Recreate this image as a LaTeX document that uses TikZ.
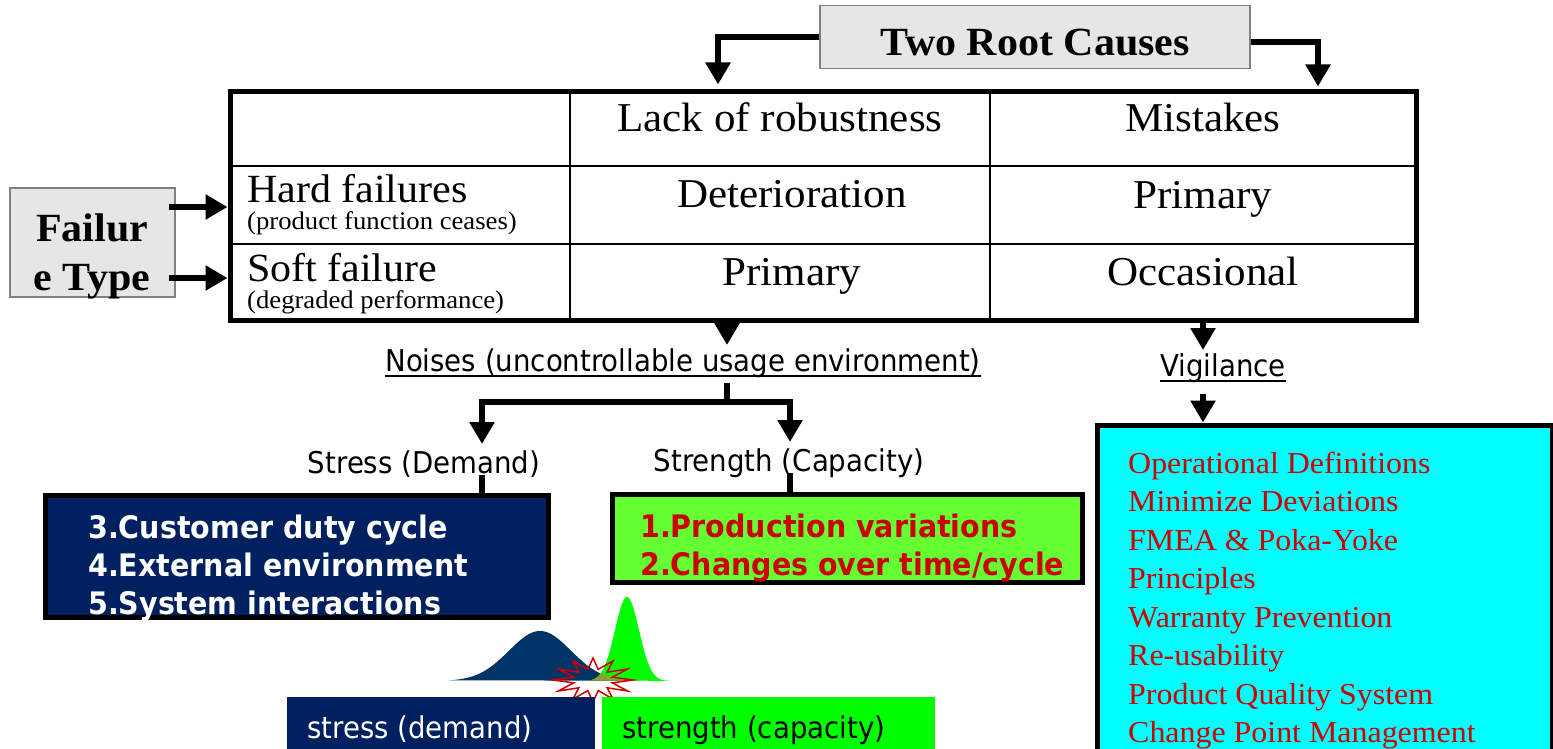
\documentclass[tikz,border=0pt]{standalone}
\usepackage{fontspec}
\setmainfont{Liberation Serif}[FakeStretch=1.05]
\newfontfamily\tah{DejaVu Sans}[FakeStretch=0.92]
\usetikzlibrary{arrows.meta,calc}
\definecolor{navy}{RGB}{0,32,96}
\definecolor{bellnavy}{RGB}{0,51,102}
\definecolor{lgreen}{RGB}{102,255,51}
\definecolor{pgreen}{RGB}{0,255,0}
\definecolor{dred}{RGB}{204,0,0}
\definecolor{lgray}{RGB}{230,230,230}
\definecolor{olivec}{RGB}{153,153,51}
\definecolor{aqua}{RGB}{0,255,255}
\newcommand\setfs[1]{\fontsize{#1}{#1}\selectfont}
\tikzset{
  arr/.style={line width=6pt,-{Triangle[width=24pt,length=22pt]}},
  stem/.style={line width=5.5pt},
  cell/.style={anchor=base,inner sep=0pt,font=\setfs{41}},
  rowhead/.style={anchor=base west,inner sep=0pt,font=\setfs{40}},
  subcell/.style={anchor=base west,inner sep=0pt,font=\setfs{25.4}},
  grayfill/.style={draw=gray,line width=1.5pt,fill=lgray,inner sep=0pt},
  boxframe/.style={draw=black,line width=5pt,inner sep=0pt},
  boldser/.style={anchor=base,inner sep=0pt,font=\bfseries\setfs{40}},
  sanslab/.style={anchor=base,inner sep=0pt,font=\tah\setfs{30}},
  boldsans/.style={anchor=base west,inner sep=0pt,font=\tah\bfseries\setfs{31}},
  redser/.style={anchor=base west,inner sep=0pt,text=dred,font=\setfs{30.4}},
}
\begin{document}
\begin{tikzpicture}[x=1pt,y=-1pt]
\clip (0,0) rectangle (1553,749);
\fill[white] (0,0) rectangle (1553,749);

% Two Root Causes
\node[grayfill,minimum width=430pt,minimum height=63pt] (root) at (1035,37) {};
\node[boldser] (roott) at (1035,56) {Two Root Causes};

% Failure type
\node[grayfill,minimum width=165pt,minimum height=109pt] (ft) at (92.5,242.5) {};
\node[boldser] (ft1) at (92,241) {Failur};
\node[boldser] (ft2) at (92,290) {e Type};

% table
\node[boxframe,minimum width=1186pt,minimum height=228pt] (tbl) at (823,206) {};
\draw[line width=2pt] (tbl.north -| 570,0) -- (tbl.south -| 570,0);
\draw[line width=2pt] (tbl.north -| 990,0) -- (tbl.south -| 990,0);
\draw[line width=2pt] (tbl.west |- 0,166) -- (tbl.east |- 0,166);
\draw[line width=2pt] (tbl.west |- 0,244) -- (tbl.east |- 0,244);

\node[cell] (c12) at (780,132) {Lack of robustness};
\node[cell] (c13) at (1203,132) {Mistakes};
\node[rowhead] (c21) at (247,202) {Hard failures};
\node[subcell] (c21s) at (247,229) {(product function ceases)};
\node[cell] (c22) at (792,207.5) {Deterioration};
\node[cell] (c23) at (1203,208) {Primary};
\node[rowhead] (c31) at (247,281) {Soft failure};
\node[subcell] (c31s) at (247,308) {(degraded performance)};
\node[cell] (c32) at (792,285.5) {Primary};
\node[cell] (c33) at (1203,285.5) {Occasional};

% arrows from root and failure type
\draw[arr,shorten >=5pt] (root.west) -| (tbl.north -| 718,0);
\draw[arr,shorten >=3pt] ([yshift=-5pt]root.east) -| (tbl.north -| 1318,0);
\draw[arr] ([xshift=-7pt]ft.east |- 0,207) -- (tbl.west |- 0,207);
\draw[arr] ([xshift=-7pt]ft.east |- 0,278) -- (tbl.west |- 0,278);

% noises
\node[sanslab] (noise) at (683,371) {Noises (uncontrollable usage environment)};
\draw[line width=2pt] ([yshift=-5pt]noise.base west) -- ([yshift=-5pt]noise.base east);
\node[sanslab] (vig) at (1223,376) {Vigilance};
\draw[line width=2pt] ([yshift=-5pt]vig.base west) -- ([yshift=-5pt]vig.base east);

\draw[arr,shorten >=3pt] (tbl.south -| 727,0) -- (noise.north -| 727,0);
\draw[arr,shorten >=3pt] (tbl.south -| 1203,0) -- (vig.north -| 1203,0);

\node[sanslab] (stress) at (424,473) {Stress (Demand)};
\node[sanslab] (strength) at (789,471) {Strength (Capacity)};

\coordinate (br) at (727,402);
\draw[stem,shorten <=6pt] (noise.south -| br) -- (br);
\draw[arr,shorten >=6pt] (br) -| (stress.north -| 482,0);
\draw[arr,shorten >=6pt] (br) -| (strength.north -| 790,0);

% boxes
\node[boxframe,fill=navy,minimum width=503pt,minimum height=122pt] (sbox) at (296.5,556) {};
\node[boxframe,fill=lgreen,minimum width=470pt,minimum height=88pt] (gbox) at (847,538) {};
\node[boxframe,fill=aqua,minimum width=455pt,minimum height=345pt] (cbox) at (1324.5,597.5) {};

\draw[stem] (482,475) -- (sbox.north -| 482,0);
\draw[stem] (790,473) -- (gbox.north -| 790,0);
\draw[arr,shorten <=12pt] (vig.south -| 1203,0) -- (cbox.north -| 1203,0);

\node[boldsans,text=white] (s1) at (88,538) {3.Customer duty cycle};
\node[boldsans,text=white] (s2) at (88,576) {4.External environment};
\node[boldsans,text=white] (s3) at (88,614) {5.System interactions};

\node[boldsans,text=dred] (g1) at (640,537) {1.Production variations};
\node[boldsans,text=dred] (g2) at (640,575) {2.Changes over time/cycle};

\node[redser] (r1) at (1128,473) {Operational Definitions};
\node[redser] (r2) at (1128,511.5) {Minimize Deviations};
\node[redser] (r3) at (1128,550) {FMEA \& Poka-Yoke};
\node[redser] (r4) at (1128,588.5) {Principles};
\node[redser] (r5) at (1128,627) {Warranty Prevention};
\node[redser] (r6) at (1128,665.5) {Re-usability};
\node[redser] (r7) at (1128,704) {Product Quality System};
\node[redser] (r8) at (1128,742.5) {Change Point Management};

% bell curves
\fill[bellnavy] plot[domain=450:640,samples=100] (\x,{681-50*exp(-((\x-540)/31)^2/2)}) -- cycle;
\fill[pgreen] plot[domain=590:672,samples=100] (\x,{681-84*exp(-((\x-627)/12)^2/2)}) -- cycle;
\begin{scope}
\clip plot[domain=450:640,samples=100] (\x,{681-50*exp(-((\x-540)/31)^2/2)}) -- cycle;
\fill[olivec] plot[domain=590:672,samples=100] (\x,{681-84*exp(-((\x-627)/12)^2/2)}) -- cycle;
\end{scope}
\draw[dred,line width=1.5pt] plot[samples at={0,...,23},variable=\k]
  ({593+40*(1-0.5*mod(\k,2))*cos(15*\k)},{680+22*(1-0.5*mod(\k,2))*sin(15*\k)}) -- cycle;

% bottom labels
\node[fill=navy,minimum width=308pt,minimum height=60pt,anchor=north west,inner sep=0pt] (sd) at (287,697) {};
\node[fill=pgreen,minimum width=333pt,minimum height=60pt,anchor=north west,inner sep=0pt] (sc) at (602,697) {};
\node[anchor=base west,inner sep=0pt,font=\tah\setfs{30},text=white] (sdt) at (307,738) {stress (demand)};
\node[anchor=base west,inner sep=0pt,font=\tah\setfs{30},text=black] (sct) at (622,738) {strength (capacity)};
\end{tikzpicture}
\end{document}
